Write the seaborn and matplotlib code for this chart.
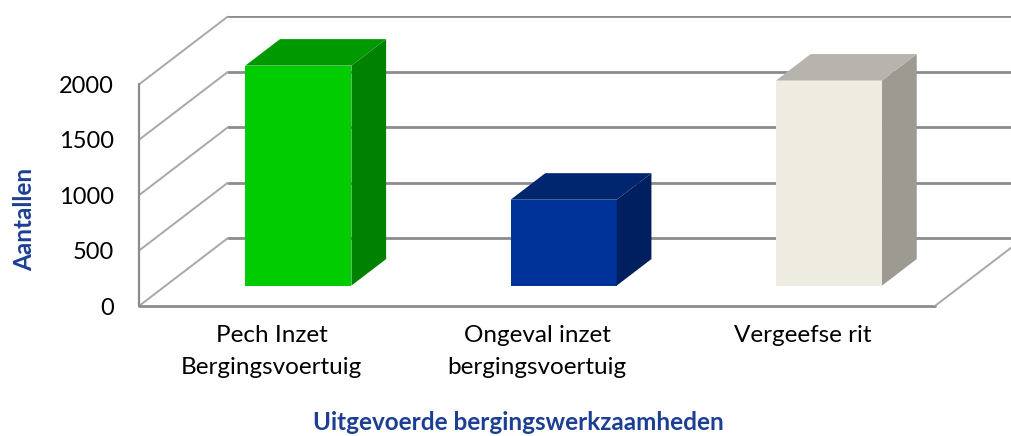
import matplotlib.pyplot as plt
import seaborn as sns
from matplotlib.patches import Polygon

categories = ["Pech Inzet\nBergingsvoertuig", "Ongeval inzet\nbergingsvoertuig", "Vergeefse rit"]
counts = [1985, 775, 1850]
y_ticks = [0, 500, 1000, 1500, 2000]

front_colors = ["#00CC00", "#003399", "#EEECE1"]
side_colors = ["#008200", "#001F5E", "#9C9A91"]
top_colors = ["#009A00", "#00266F", "#B6B4AC"]
title_color = "#1C3F94"

# depth of the 3d box in data units, and where the bars sit inside it
DX, DY = 0.3355, 614
BAR_Z0, BAR_DEPTH = 0.30, 0.39

sns.set_theme(style="white")
plt.rcParams["font.family"] = ["Lato", "DejaVu Sans"]

fig = plt.figure(figsize=(10.12, 4.36), dpi=100)
ax = fig.add_axes([139 / 1012, 130 / 436, 873 / 1012, 290 / 436])

sns.barplot(x=categories, y=counts, hue=categories, palette=front_colors,
            width=0.4, saturation=1, legend=False, ax=ax, zorder=3)

x_right = -0.5 + 873 / 265.3
ax.set_xlim(-0.5, x_right)
ax.set_ylim(0, 290 / 0.1108)

grid_col = "#8C8C8C"
diag_col = "#A8A8A8"
x0 = -0.5
x_end = len(categories) - 0.5

# back wall gridlines
for t in y_ticks:
    ax.plot([x0 + DX, x_right + 0.1], [t + DY, t + DY], color=grid_col, lw=2, zorder=1)
# left wall gridlines
for t in y_ticks:
    ax.plot([x0, x0 + DX], [t, t + DY], color=diag_col, lw=1.4, zorder=1,
            solid_capstyle="butt", clip_on=False)
# front edges
ax.plot([x0, x0], [0, y_ticks[-1]], color=grid_col, lw=1.6, clip_on=False, zorder=1)
ax.plot([x0, x_end], [0, 0], color=grid_col, lw=2, clip_on=False, zorder=1)
ax.plot([x_end, x_end + DX], [0, DY], color=diag_col, lw=1.4, zorder=1)

sx, sy = BAR_Z0 * DX, BAR_Z0 * DY
bx, by = BAR_DEPTH * DX, BAR_DEPTH * DY
for p, sc, tc in zip(ax.patches, side_colors, top_colors):
    p.set_x(p.get_x() + sx)
    p.set_y(p.get_y() + sy)
    p.set_linewidth(0)
    l, b = p.get_x(), p.get_y()
    r, t = l + p.get_width(), b + p.get_height()
    side = Polygon([(r, b), (r + bx, b + by), (r + bx, t + by), (r, t)],
                   closed=True, facecolor=sc, edgecolor="none", zorder=3)
    top = Polygon([(l, t), (l + bx, t + by), (r + bx, t + by), (r, t)],
                  closed=True, facecolor=tc, edgecolor="none", zorder=3)
    ax.add_patch(side)
    ax.add_patch(top)

ax.set_yticks(y_ticks)
ax.set_yticklabels([str(t) for t in y_ticks])
ax.tick_params(axis="y", length=0, pad=18, labelsize=17, labelcolor="black")
ax.tick_params(axis="x", length=0, pad=14, labelsize=17.5, labelcolor="black")
for lab in ax.get_xticklabels():
    lab.set_linespacing(1.65)
ax.set_xlabel("")
ax.set_ylabel("")
sns.despine(ax=ax, left=True, bottom=True)
ax.grid(False)

fig.text(518 / 1012, 1 - 422 / 436, "Uitgevoerde bergingswerkzaamheden",
         ha="center", va="center", fontsize=17.5, fontweight="bold", color=title_color)
fig.text(25 / 1012, 1 - 219 / 436, "Aantallen", rotation=90,
         ha="center", va="center", fontsize=17.5, fontweight="bold", color=title_color)

fig.savefig("out.png", dpi=100)
